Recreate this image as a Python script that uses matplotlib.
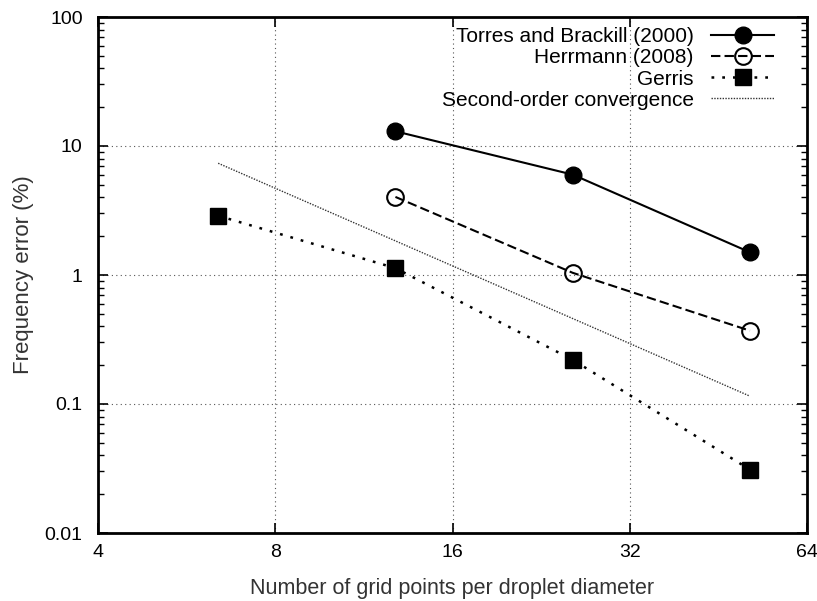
import matplotlib
matplotlib.use("Agg")
import matplotlib.pyplot as plt
from matplotlib.ticker import LogLocator, FixedLocator, NullFormatter, NullLocator

plt.rcParams['font.family'] = ['Liberation Sans', 'DejaVu Sans']

torres_x = [12.8, 25.6, 51.2]
torres_y = [13.0, 6.0, 1.5]
herrmann_x = [12.8, 25.6, 51.2]
herrmann_y = [4.03, 1.04, 0.37]
gerris_x = [6.4, 12.8, 25.6, 51.2]
gerris_y = [2.88, 1.13, 0.22, 0.031]
second_x = [6.4, 51.2]
second_y = [7.35, 0.115]

xticks = [4, 8, 16, 32, 64]
xticklabels = ['4', '8', '16', '32', '64']
yticks = [0.01, 0.1, 1, 10, 100]
yticklabels = ['0.01', '0.1', '1', '10', '100']

fig = plt.figure(figsize=(8.17, 6.01), dpi=100)
ax = fig.add_axes([98/817, 1-533/601, (807-98)/817, (533-17)/601])

ax.plot(torres_x, torres_y, '-', color='black', lw=1.5, marker='o', ms=12,
        label='Torres and Brackill (2000)')
ax.plot(herrmann_x, herrmann_y, color='black', lw=1.5, ls=(0, (4.5, 2)), marker='o', ms=12,
        mfc='none', mew=1.5, label='Herrmann (2008)')
ax.plot(gerris_x, gerris_y, color='black', lw=1.8, ls=(0, (1.1, 3.2)), marker='s', ms=11.5,
        label='Gerris')
ax.plot(second_x, second_y, color='#333333', lw=1.0, ls=(0, (1, 1)),
        label='Second-order convergence')

ax.set_xscale('log', base=2)
ax.set_yscale('log')
ax.set_xlim(4, 64)
ax.set_ylim(0.01, 100)
ax.xaxis.set_major_locator(FixedLocator(xticks))
ax.set_xticklabels(xticklabels)
ax.xaxis.set_minor_locator(NullLocator())
ax.yaxis.set_major_locator(FixedLocator(yticks))
ax.set_yticklabels(yticklabels)
ax.yaxis.set_minor_locator(LogLocator(base=10, subs=range(2, 10)))
ax.yaxis.set_minor_formatter(NullFormatter())

ax.tick_params(which='both', direction='in', top=True, right=True, labelsize=14, colors='black')
ax.tick_params(axis='x', pad=8)
ax.tick_params(axis='y', pad=11)
ax.tick_params(which='major', length=7, width=1.2)
ax.tick_params(which='minor', length=4, width=1.0)
for s in ax.spines.values():
    s.set_linewidth(2)

ax.grid(True, which='major', ls=(0, (1, 3)), color='#555555', lw=0.8)

ax.set_xlabel('Number of grid points per droplet diameter', fontsize=15.5, color='#333333', labelpad=12)
ax.set_ylabel('Frequency error (%)', fontsize=16, color='#333333', labelpad=7.5)

leg = ax.legend(loc='upper right', bbox_to_anchor=(0.965, 0.996), markerfirst=False,
                frameon=False, fontsize=15, handlelength=3.0, handletextpad=0.85,
                labelspacing=0.1, borderaxespad=0)

fig.savefig('out.png', dpi=100)
